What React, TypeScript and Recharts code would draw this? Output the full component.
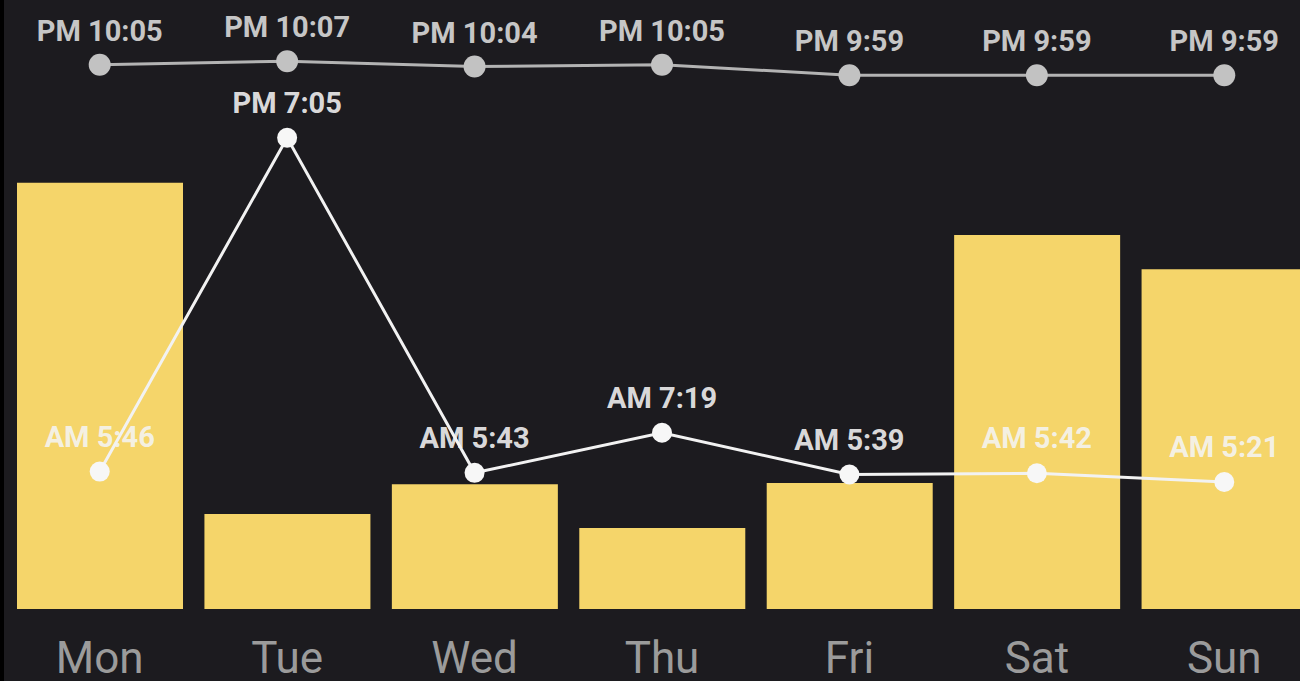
import React from 'react';
import {
  ComposedChart,
  Bar,
  Line,
  XAxis,
  YAxis,
  LabelList,
} from 'recharts';

// days of the week
const days = ['Mon', 'Tue', 'Wed', 'Thu', 'Fri', 'Sat', 'Sun'];

// bar heights (hours)
const barValues = [7.0, 1.56, 2.05, 1.33, 2.07, 6.14, 5.58];

// bedtime, minutes after midnight
const bedMinutes = [1325, 1327, 1324, 1325, 1319, 1319, 1319];
const bedLabels = ['PM 10:05', 'PM 10:07', 'PM 10:04', 'PM 10:05', 'PM 9:59', 'PM 9:59', 'PM 9:59'];

// wake time, minutes after midnight
const wakeMinutes = [346, 1145, 343, 439, 339, 342, 321];
const wakeLabels = ['AM 5:46', 'PM 7:05', 'AM 5:43', 'AM 7:19', 'AM 5:39', 'AM 5:42', 'AM 5:21'];

const data = days.map((day, i) => ({
  day,
  bar: barValues[i],
  bed: bedMinutes[i],
  bedLabel: bedLabels[i],
  wake: wakeMinutes[i],
  wakeLabel: wakeLabels[i],
}));

const FONT = 'Roboto, "Noto Sans", sans-serif';

export default function App() {
  return (
    <div
      style={{
        position: 'absolute',
        left: 0,
        top: 0,
        width: 1300,
        height: 681,
        overflow: 'hidden',
        background: '#000',
      }}
    >
      <div
        style={{
          position: 'absolute',
          left: 4,
          top: 0,
          width: 1296,
          height: 681,
          background: '#1c1b1f',
        }}
      />
      <div style={{ position: 'absolute', left: 6, top: 0 }}>
        <ComposedChart
          width={1312}
          height={681}
          data={data}
          margin={{ top: 0, right: 0, bottom: 0, left: 0 }}
        >
          <XAxis
            dataKey="day"
            height={72}
            axisLine={false}
            tickLine={false}
            tickMargin={27}
            interval={0}
            tick={{ fill: '#9b9b9b', fontSize: 44, fontFamily: FONT }}
          />
          <YAxis yAxisId="bar" hide domain={[0, 10]} />
          <YAxis yAxisId="wake" hide domain={[17, 1475]} />
          <YAxis yAxisId="bed" hide domain={[1014, 1362]} />
          <Bar
            yAxisId="bar"
            dataKey="bar"
            fill="#f5d56a"
            barSize={166}
            isAnimationActive={false}
          />
          <Line
            yAxisId="bed"
            dataKey="bed"
            stroke="#b3b3b3"
            strokeWidth={3}
            dot={{ r: 11, fill: '#c2c2c2', stroke: 'none' }}
            isAnimationActive={false}
          >
            <LabelList
              dataKey="bedLabel"
              position="top"
              offset={24}
              fill="#c6c6c6"
              fontSize={29}
              fontWeight={700}
              fontFamily={FONT}
            />
          </Line>
          <Line
            yAxisId="wake"
            dataKey="wake"
            stroke="#f2f2f2"
            strokeWidth={3}
            dot={{ r: 10, fill: '#f7f7f7', stroke: 'none' }}
            isAnimationActive={false}
          >
            <LabelList
              dataKey="wakeLabel"
              position="top"
              offset={25}
              fill="#f4f4f4"
              fillOpacity={0.9}
              fontSize={29}
              fontWeight={700}
              fontFamily={FONT}
            />
          </Line>
        </ComposedChart>
      </div>
    </div>
  );
}
